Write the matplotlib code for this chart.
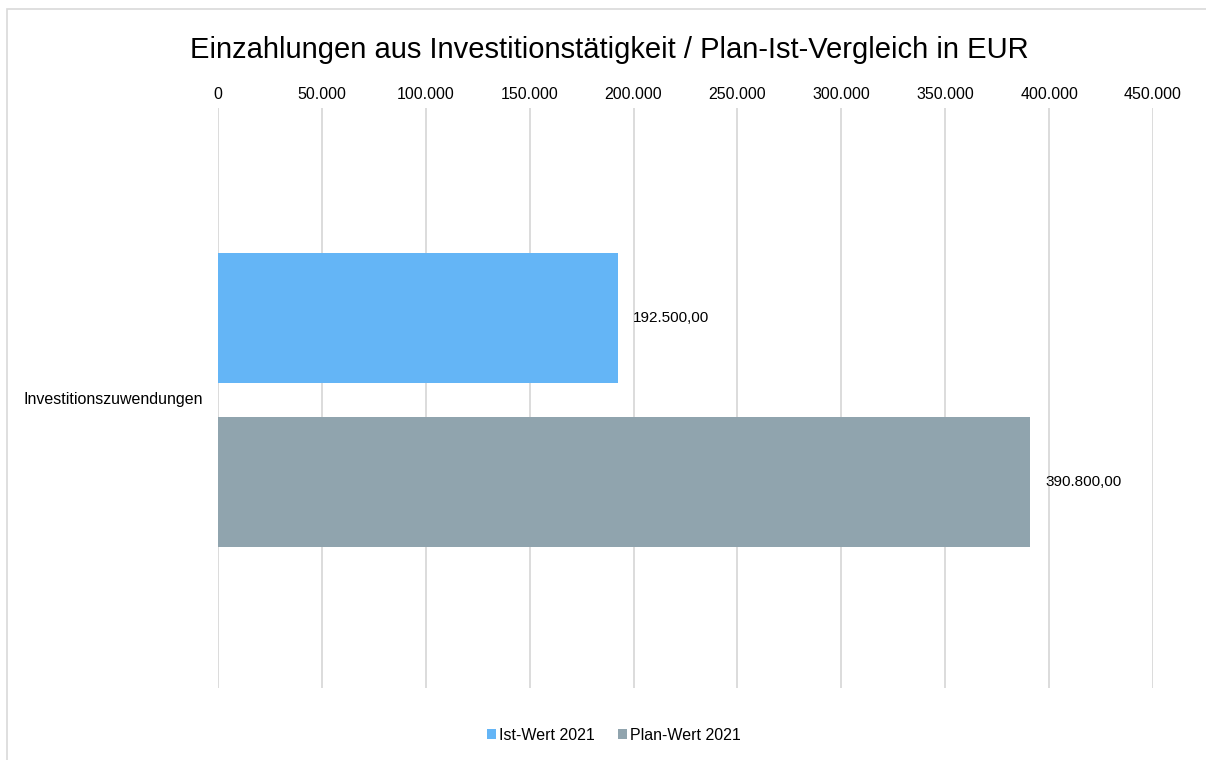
import matplotlib
matplotlib.use("Agg")
import matplotlib.pyplot as plt
from matplotlib.patches import Rectangle
from matplotlib.ticker import FuncFormatter

plt.rcParams['font.family'] = ['Liberation Sans', 'DejaVu Sans']

# Daten
category = "Investitionszuwendungen"
series_names = ["Ist-Wert 2021", "Plan-Wert 2021"]
series_values = [192500.00, 390800.00]
series_colors = ["#64B5F6", "#90A4AE"]
x_ticks = [0, 50000, 100000, 150000, 200000, 250000, 300000, 350000, 400000, 450000]


def de_int(v, pos=None):
	return f"{int(v):,}".replace(",", ".")


def de_money(v):
	s = f"{v:,.2f}"
	return s.replace(",", "X").replace(".", ",").replace("X", ".")


fig = plt.figure(figsize=(12.06, 7.6), dpi=100)
ax = fig.add_axes([218 / 1206, 1 - 688 / 760, (1153 - 218) / 1206, 580 / 760])

# Rahmen um das Diagramm
fig.patches.append(Rectangle((7 / 1206, -0.01), 1.02, 1 - 9 / 760 + 0.01,
	transform=fig.transFigure, fill=False, edgecolor="#D9D9D9", linewidth=1.2))

bar_h = 0.224
offsets = [0.1376, -0.1444]
for name, val, col, off in zip(series_names, series_values, series_colors, offsets):
	ax.barh(off, val, height=bar_h, color=col, label=name, zorder=3)
	ax.text(val + 7200, off, de_money(val), va="center", ha="left", fontsize=11, color="#000000")

ax.set_xlim(0, 450000)
ax.set_ylim(-0.5, 0.5)
ax.set_xticks(x_ticks)
ax.xaxis.set_major_formatter(FuncFormatter(de_int))
ax.xaxis.tick_top()
ax.tick_params(axis="x", length=0, labelsize=11.5, pad=4, labelcolor="#000000")
ax.set_yticks([0])
ax.set_yticklabels([category])
ax.tick_params(axis="y", length=0, labelsize=11.5, pad=11)
ax.grid(axis="x", color="#D9D9D9", linewidth=1.3, zorder=0)
for s in ax.spines.values():
	s.set_visible(False)

fig.text(0.505, 1 - 50 / 760, "Einzahlungen aus Investitionstätigkeit / Plan-Ist-Vergleich in EUR",
	ha="center", va="center", fontsize=21)

fig.legend(loc="center", bbox_to_anchor=(0.509, 1 - 735 / 760), ncol=2, frameon=False,
	fontsize=11.5, handlelength=0.6, handleheight=0.6, handletextpad=0.2, columnspacing=1.4)

fig.savefig("out.png", dpi=100)
